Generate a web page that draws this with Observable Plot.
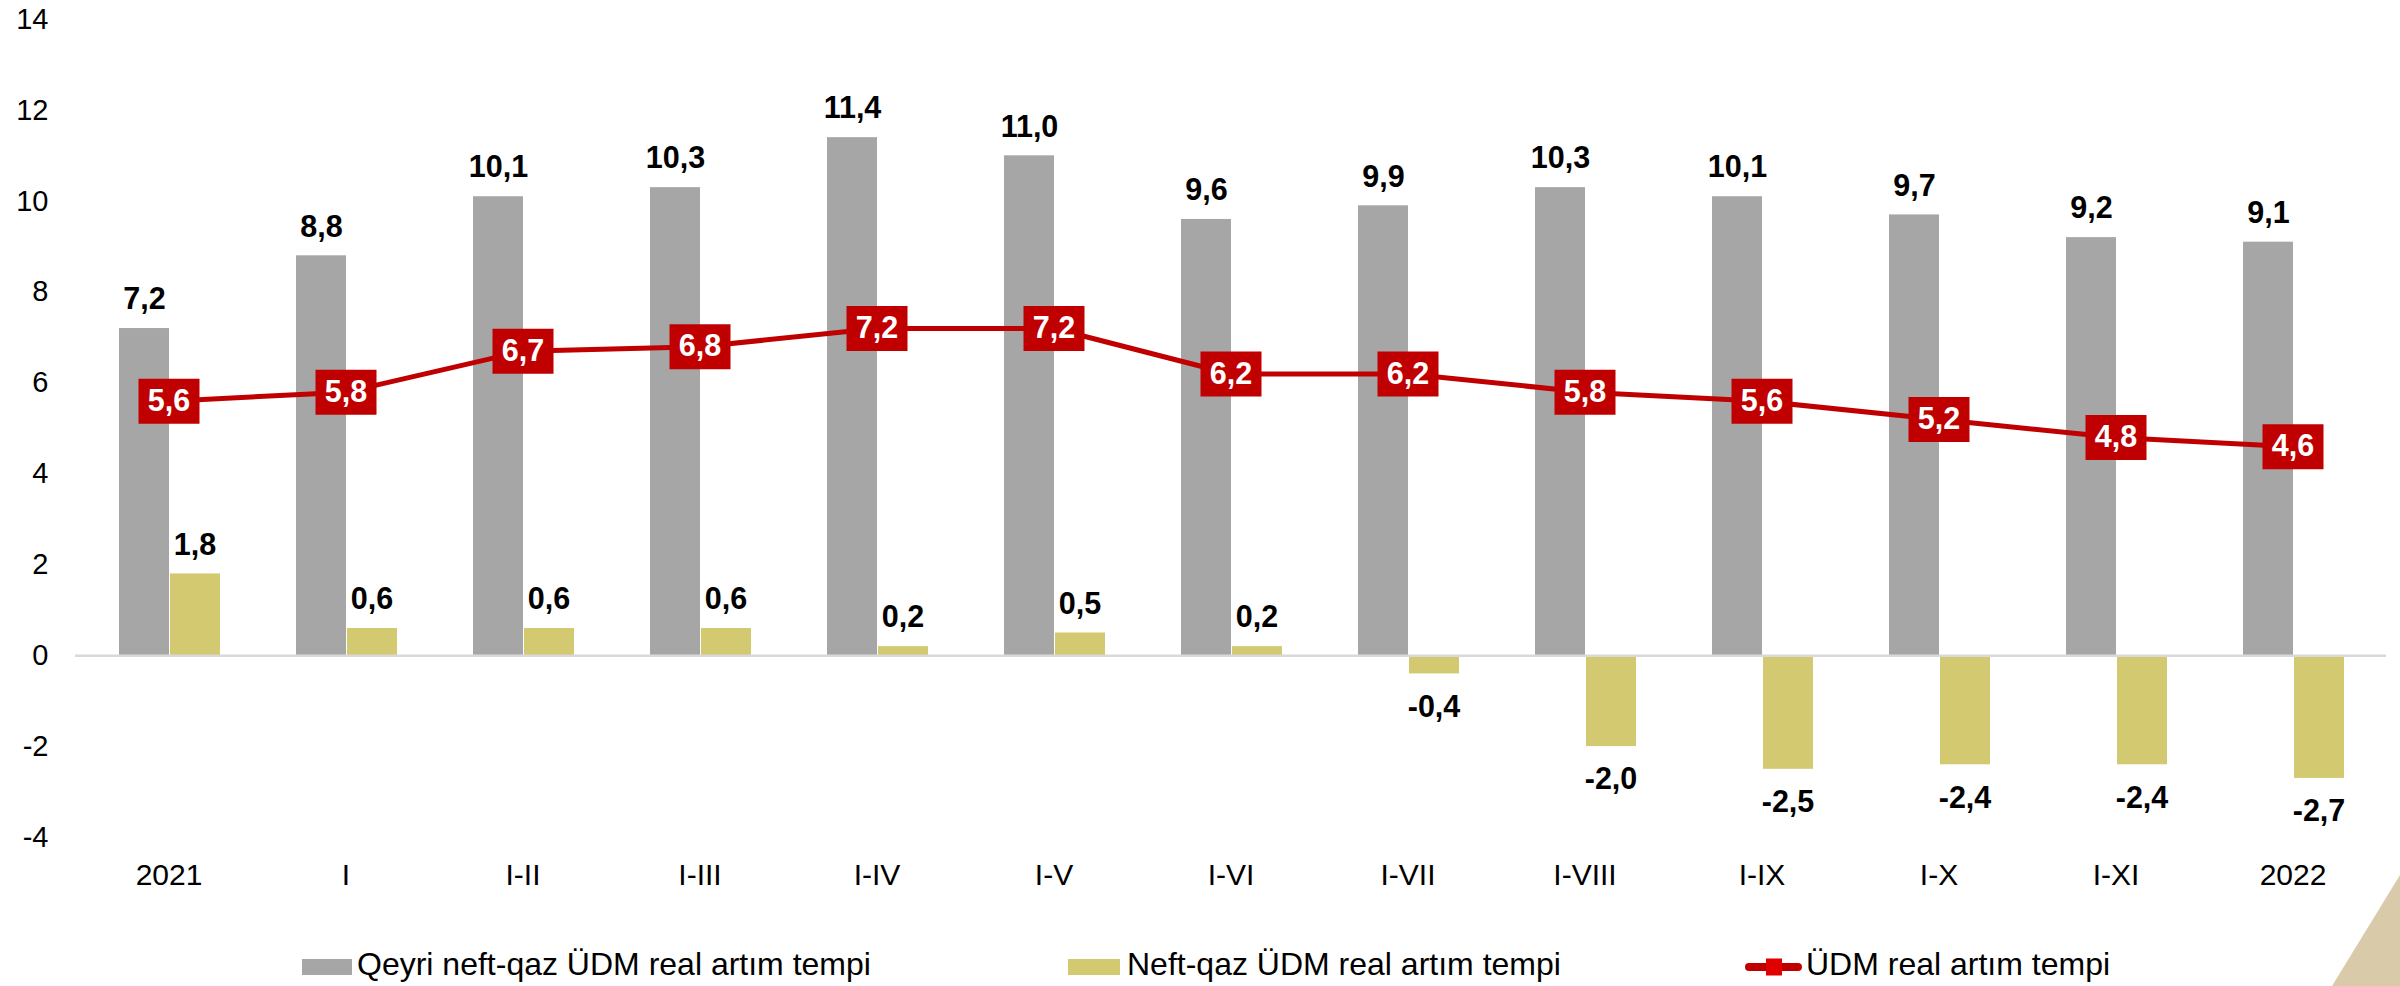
<!DOCTYPE html>
<html>
<head>
<meta charset="utf-8">
<script src="https://cdn.jsdelivr.net/npm/d3@7"></script>
<script src="https://cdn.jsdelivr.net/npm/@observablehq/plot@0.6"></script>
<style>
  html, body { margin: 0; padding: 0; background: #fff; }
  body { width: 2400px; height: 986px; position: relative; overflow: hidden; font-family: "Liberation Sans", Arial, sans-serif; }
  #chart svg { display: block; }
  #legend { display: block; }
  #deco { position: absolute; left: 0; top: 0; pointer-events: none; }
</style>
</head>
<body>
<div id="chart"></div>
<svg id="legend" width="2400" height="86"></svg>
<svg id="deco" width="2400" height="986"></svg>
<script>
// ---- Data ----
const categories = ["2021", "I", "I-II", "I-III", "I-IV", "I-V", "I-VI", "I-VII", "I-VIII", "I-IX", "I-X", "I-XI", "2022"];
const nonOilGdp = [7.2, 8.8, 10.1, 10.3, 11.4, 11.0, 9.6, 9.9, 10.3, 10.1, 9.7, 9.2, 9.1];
const oilGasGdp = [1.8, 0.6, 0.6, 0.6, 0.2, 0.5, 0.2, -0.4, -2.0, -2.5, -2.4, -2.4, -2.7];
const totalGdp = [5.6, 5.8, 6.7, 6.8, 7.2, 7.2, 6.2, 6.2, 5.8, 5.6, 5.2, 4.8, 4.6];
const yTicks = [-4, -2, 0, 2, 4, 6, 8, 10, 12, 14];
const seriesNames = ["Qeyri neft-qaz ÜDM real artım tempi", "Neft-qaz ÜDM real artım tempi", "ÜDM real artım tempi"];

const rows = categories.map((c, i) => ({cat: c, nonOil: nonOilGdp[i], oil: oilGasGdp[i], gdp: totalGdp[i]}));
const fmt = v => v.toFixed(1).replace(".", ",");

const GRAY = "#A6A6A6", OLIVE = "#D3C970", RED = "#C00000";
const FONT = "'Liberation Sans', Arial, sans-serif";

// rectangular label box symbol for the line markers
const boxSymbol = {
  draw(ctx) {
    const w = 30.5, h = 22.5;
    ctx.moveTo(-w, -h); ctx.lineTo(w, -h); ctx.lineTo(w, h); ctx.lineTo(-w, h); ctx.closePath();
  }
};

const chart = Plot.plot({
  width: 2400,
  height: 900,
  marginTop: 19,
  marginBottom: 63,
  marginLeft: 75,
  marginRight: 14,
  style: {fontFamily: FONT, fontSize: "30px", color: "#000", background: "white"},
  x: {domain: categories, padding: 0, label: null},
  y: {domain: [-4, 14], label: null},
  marks: [
    Plot.axisY({ticks: yTicks, tickSize: 0, tickPadding: 27, fontSize: 29, tickFormat: d => String(d), label: null}),
    Plot.axisX({tickSize: 0, tickPadding: 26, fontSize: 30, label: null}),
    Plot.barY(rows, {x: "cat", y: "nonOil", fill: GRAY, insetLeft: 39, insetRight: 88}),
    Plot.barY(rows, {x: "cat", y: "oil", fill: OLIVE, insetLeft: 90, insetRight: 37}),
    Plot.ruleY([0], {stroke: "#D9D9D9", strokeWidth: 2.5}),
    Plot.text(rows, {x: "cat", y: "nonOil", text: d => fmt(d.nonOil), dx: -24.5, dy: -29, fontWeight: "bold", fontSize: 30.5, fill: "#000"}),
    Plot.text(rows.filter(d => d.oil >= 0), {x: "cat", y: "oil", text: d => fmt(d.oil), dx: 26, dy: -29, fontWeight: "bold", fontSize: 30.5, fill: "#000"}),
    Plot.text(rows.filter(d => d.oil < 0), {x: "cat", y: "oil", text: d => fmt(d.oil), dx: 26, dy: 33, fontWeight: "bold", fontSize: 30.5, fill: "#000"}),
    Plot.line(rows, {x: "cat", y: "gdp", stroke: RED, strokeWidth: 5}),
    Plot.dot(rows, {x: "cat", y: "gdp", symbol: boxSymbol, fill: RED, stroke: "none", r: 10}),
    Plot.text(rows, {x: "cat", y: "gdp", text: d => fmt(d.gdp), fill: "white", fontWeight: "bold", fontSize: 30.5})
  ]
});
document.getElementById("chart").appendChild(chart);

// ---- Legend ----
const lg = d3.select("#legend");
const items = [
  {name: seriesNames[0], kind: "bar", color: GRAY, sx: 302, sw: 50, tx: 357},
  {name: seriesNames[1], kind: "bar", color: OLIVE, sx: 1068, sw: 52, tx: 1127},
  {name: seriesNames[2], kind: "line", color: RED, sx: 1745, sw: 57, tx: 1806}
];
for (const it of items) {
  if (it.kind === "bar") {
    lg.append("rect").attr("x", it.sx).attr("y", 59).attr("width", it.sw).attr("height", 16).attr("fill", it.color);
  } else {
    lg.append("line").attr("x1", it.sx + 4).attr("x2", it.sx + it.sw - 4).attr("y1", 67).attr("y2", 67)
      .attr("stroke", RED).attr("stroke-width", 8).attr("stroke-linecap", "round");
    lg.append("rect").attr("x", it.sx + 21).attr("y", 58.5).attr("width", 16).attr("height", 17).attr("fill", "#E00000");
  }
  lg.append("text").attr("x", it.tx).attr("y", 75).attr("font-family", FONT).attr("font-size", 32)
    .attr("fill", "#000").text(it.name);
}

// ---- Decorative corner ----
d3.select("#deco").append("polygon")
  .attr("points", "2332,986 2400,875 2400,986")
  .attr("fill", "#D9CBAA");
</script>
</body>
</html>
